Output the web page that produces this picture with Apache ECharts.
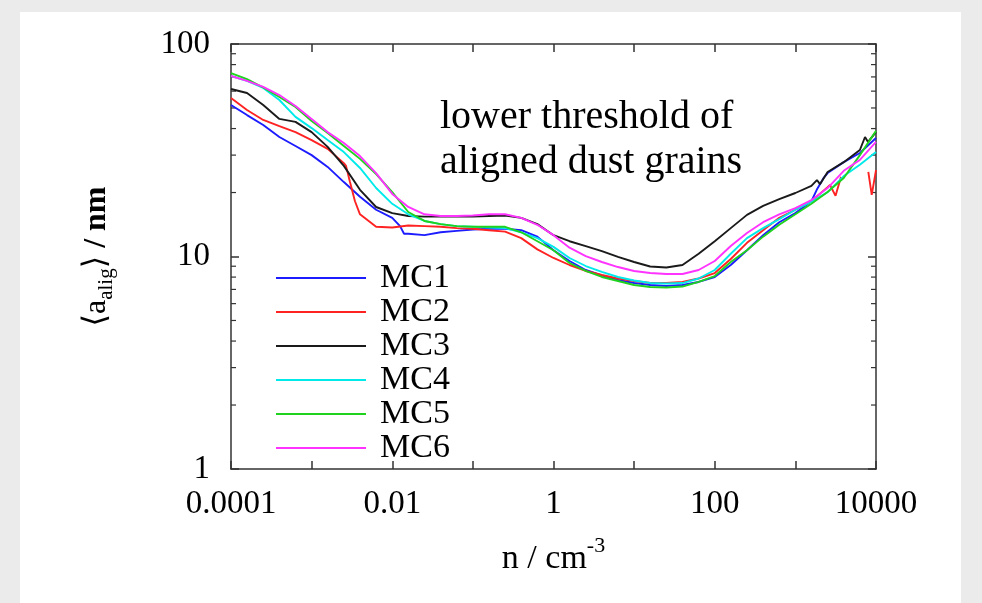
<!DOCTYPE html>
<html>
<head>
<meta charset="utf-8">
<script src="https://cdn.jsdelivr.net/npm/echarts@6.0.0/dist/echarts.min.js"></script>
<style>
    html, body { margin: 0; padding: 0; background: #ebebeb; }
    #panel { position: absolute; left: 20px; top: 12px; width: 941px; height: 591px; background: #fff; }
    #chart { position: absolute; left: 0; top: 0; width: 982px; height: 603px; }
</style>
</head>
<body>
<div id="panel"></div>
<div id="chart"></div>
<script>
var serif = '"Liberation Serif", "DejaVu Serif", serif';

// n / cm^-3, shared sampling for all runs
var density = [0.0001, 0.000158, 0.000251, 0.000398, 0.000631, 0.001, 0.00158, 0.00251, 0.00398, 0.00631,
    0.01, 0.0158, 0.0251, 0.0398, 0.0631, 0.1, 0.158, 0.251, 0.398, 0.631,
    1, 1.58, 2.51, 3.98, 6.31, 10, 15.8, 25.1, 39.8, 63.1,
    100, 158, 251, 398, 631, 1000, 1580, 2510, 3980, 6310, 10000];

// <a_alig> / nm
var mc1 = [51.6, 46.3, 41.6, 36.5, 33.1, 30.0, 26.4, 22.4, 19.1, 16.6, 15.2, 12.8, 12.6, 13.0, 13.2, 13.4, 13.5, 13.5, 13.3, 12.4,
    10.7, 9.52, 8.64, 8.14, 7.75, 7.50, 7.34, 7.26, 7.34, 7.59, 8.01, 9.12, 10.7, 12.6, 14.5, 16.0, 18.2, 24.7, 27.8, 30.7, 36.1];
var mc2 = [55.7, 48.9, 43.9, 41.1, 38.5, 35.3, 32.1, 27.5, 15.8, 13.8, 13.7, 14.0, 13.9, 13.8, 13.6, 13.5, 13.3, 13.1, 12.2, 10.8,
    9.84, 9.12, 8.55, 8.18, 7.88, 7.67, 7.50, 7.50, 7.59, 7.88, 8.36, 9.73, 11.6, 13.3, 15.2, 16.6, 18.2, 21.2, null, null, 25.5];
var mc3 = [61.4, 58.8, 51.6, 44.4, 43.0, 38.5, 32.8, 26.7, 20.6, 17.1, 16.0, 15.5, 15.4, 15.4, 15.4, 15.4, 15.5, 15.6, 15.2, 14.2,
    12.6, 11.8, 11.2, 10.6, 9.95, 9.42, 8.97, 8.88, 9.12, 10.3, 11.8, 13.6, 15.7, 17.3, 18.6, 19.9, 21.5, 25.0, 27.8, 31.7, 38.5];
var mc4 = [70.7, 67.0, 62.1, 54.5, 45.4, 40.2, 35.3, 31.0, 26.1, 21.0, 17.7, 15.8, 14.7, 14.2, 13.9, 13.8, 13.7, 13.6, 13.0, 12.2,
    11.1, 9.84, 9.02, 8.46, 8.01, 7.71, 7.50, 7.46, 7.50, 7.88, 8.64, 10.3, 12.2, 13.6, 15.0, 16.6, 18.1, 20.1, 23.9, 27.0, 31.0];
var mc5 = [73.0, 68.4, 62.4, 56.3, 50.5, 43.4, 38.1, 33.1, 28.8, 24.4, 20.1, 16.2, 14.7, 14.2, 13.9, 13.8, 13.8, 13.8, 13.0, 11.8,
    10.7, 9.32, 8.55, 8.01, 7.67, 7.34, 7.19, 7.15, 7.22, 7.59, 8.09, 9.42, 10.7, 12.4, 14.1, 15.8, 17.7, 20.1, 23.4, 30.0, 39.0];
var mc6 = [70.7, 67.0, 62.8, 57.5, 51.1, 44.4, 38.5, 34.2, 29.7, 24.7, 19.7, 17.1, 15.8, 15.5, 15.5, 15.6, 15.8, 15.8, 15.2, 14.1,
    12.6, 11.0, 10.05, 9.42, 8.92, 8.55, 8.36, 8.27, 8.27, 8.64, 9.52, 11.2, 12.9, 14.5, 15.8, 16.9, 18.4, 21.0, 25.3, 28.5, 34.6];

// extra points for the jumps and spikes
var mc1Extra = [[0.0125, 13.9], [0.0140, 12.8], [1840, 20.6], [2220, 23.3]];
var mc2Extra = [[0.00267, 26.7], [0.00299, 22.4], [0.00345, 18.2], [2690, 21.7], [3150, 19.3], [3680, 23.7], [8030, 25.0], [8850, 19.5]];
var mc3Extra = [[1850, 22.9], [2020, 21.9], [7310, 36.5], [7960, 34.6]];

var names = ['MC1', 'MC2', 'MC3', 'MC4', 'MC5', 'MC6'];
var colors = ['#1c1cff', '#ff2222', '#1a1a1a', '#00eaea', '#1ed21e', '#ff33ff'];

var xLabels = ['0.0001', '0.01', '1', '100', '10000'];
var yLabels = ['1', '10', '100'];
var yMinorTicks = [2, 3, 4, 5, 6, 7, 8, 9, 20, 30, 40, 50, 60, 70, 80, 90];

function toPairs(values, extra) {
    var pairs = density.map(function (d, i) { return [d, values[i]]; });
    return pairs.concat(extra || []).sort(function (a, b) { return a[0] - b[0]; });
}

var runs = [toPairs(mc1, mc1Extra), toPairs(mc2, mc2Extra), toPairs(mc3, mc3Extra),
    toPairs(mc4), toPairs(mc5), toPairs(mc6)];

var dom = document.getElementById('chart');
var myChart = echarts.init(dom);

var axisLineStyle = { color: '#333', width: 1.5 };

function xFormatter(v) {
    var e = Math.round(Math.log10(v));
    if (e % 2 !== 0) return '';
    return xLabels[(e + 4) / 2];
}
function yFormatter(v) {
    return yLabels[Math.round(Math.log10(v))];
}

var series = runs.map(function (data, i) {
    return {
        name: names[i],
        type: 'line',
        data: data,
        showSymbol: false,
        connectNulls: false,
        color: colors[i],
        lineStyle: { width: 1.9, color: colors[i] }
    };
});

// minor ticks 2..9 per decade on left and right frame
series.push({
    type: 'custom',
    silent: true,
    data: yMinorTicks.map(function (v) { return [0.0001, v]; }),
    renderItem: function (params, api) {
        var l = api.coord([0.0001, api.value(1)]);
        var r = api.coord([10000, api.value(1)]);
        return {
            type: 'group',
            children: [
                { type: 'line', shape: { x1: l[0], y1: l[1], x2: l[0] + 5, y2: l[1] }, style: { stroke: '#333', lineWidth: 1.2 } },
                { type: 'line', shape: { x1: r[0], y1: r[1], x2: r[0] - 5, y2: r[1] }, style: { stroke: '#333', lineWidth: 1.2 } }
            ]
        };
    }
});

var option = {
    animation: false,
    title: {
        text: 'lower threshold of\naligned dust grains',
        left: 440,
        top: 95,
        padding: 0,
        textStyle: { fontFamily: serif, fontSize: 40, fontWeight: 'normal', lineHeight: 45, color: '#000' }
    },
    legend: {
        data: names,
        orient: 'vertical',
        left: 271,
        top: 256,
        icon: 'rect',
        itemWidth: 90,
        itemHeight: 2,
        itemGap: 0,
        textStyle: { fontFamily: serif, fontSize: 34, color: '#000', padding: [0, 0, 0, 9], lineHeight: 34 }
    },
    grid: { left: 231, right: 106, top: 44, bottom: 134 },
    xAxis: [
        {
            type: 'log',
            logBase: 10,
            min: 0.0001,
            max: 10000,
            name: '{n|n / cm}{p|-3}',
            nameLocation: 'middle',
            nameGap: 66,
            nameTextStyle: {
                rich: {
                    n: { fontFamily: serif, fontSize: 34, color: '#000' },
                    p: { fontFamily: serif, fontSize: 22, color: '#000', padding: [0, 0, 26, 0] }
                }
            },
            axisLine: { lineStyle: axisLineStyle },
            axisTick: { inside: true, length: 8, lineStyle: axisLineStyle },
            axisLabel: { formatter: xFormatter, fontFamily: serif, fontSize: 33, color: '#000', margin: 19 },
            splitLine: { show: false }
        },
        {
            type: 'log',
            logBase: 10,
            min: 0.0001,
            max: 10000,
            position: 'top',
            axisLine: { lineStyle: axisLineStyle },
            axisTick: { inside: true, length: 8, lineStyle: axisLineStyle },
            axisLabel: { show: false },
            splitLine: { show: false }
        }
    ],
    yAxis: [
        {
            type: 'log',
            logBase: 10,
            min: 1,
            max: 100,
            name: '{b|⟨a}{s|alig}{b|⟩}{n| / nm}',
            nameLocation: 'middle',
            nameRotate: 90,
            nameGap: 114,
            nameTextStyle: {
                rich: {
                    b: { fontFamily: serif, fontSize: 32, color: '#000' },
                    s: { fontFamily: serif, fontSize: 21, color: '#000', padding: [20, 0, 0, 0] },
                    n: { fontFamily: serif, fontSize: 32, fontWeight: 'bold', color: '#000' }
                }
            },
            axisLine: { lineStyle: axisLineStyle },
            axisTick: { inside: true, length: 8, lineStyle: axisLineStyle },
            axisLabel: { formatter: yFormatter, fontFamily: serif, fontSize: 33, color: '#000', margin: 21 },
            splitLine: { show: false }
        },
        {
            type: 'log',
            logBase: 10,
            min: 1,
            max: 100,
            position: 'right',
            axisLine: { lineStyle: axisLineStyle },
            axisTick: { inside: true, length: 8, lineStyle: axisLineStyle },
            axisLabel: { show: false },
            splitLine: { show: false }
        }
    ],
    series: series
};

myChart.setOption(option);
window.addEventListener('resize', function () {
    myChart.resize();
});
</script>
</body>
</html>
